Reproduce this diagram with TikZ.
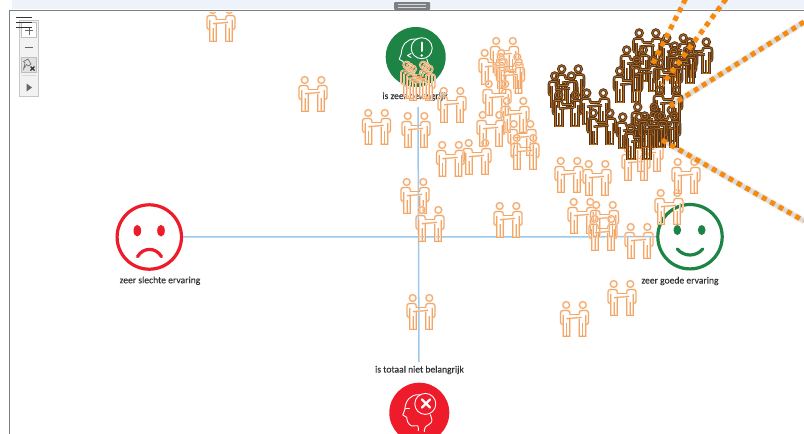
\documentclass[tikz,border=0pt]{standalone}
\usepackage{fontspec}
\setmainfont{Carlito}
\newfontfamily\capfont[FakeBold=0.2]{Carlito}
\definecolor{axisblue}{HTML}{9CC8EA}
\definecolor{badred}{HTML}{EE1C2A}
\definecolor{goodgreen}{HTML}{1E8445}
\definecolor{dotorange}{HTML}{F58A0C}
\definecolor{bandblue}{HTML}{EEF2FB}
\definecolor{framegrey}{HTML}{7C7F84}
\definecolor{lighthalo}{HTML}{FADBBF}
\definecolor{lightcore}{HTML}{F2A768}
\definecolor{darkhalo}{HTML}{55361C}
\definecolor{darkcore}{HTML}{B96E1E}
\newcommand{\personpath}[1]{%
  \draw[#1] (-8.3,-14) circle (3.4);
  \draw[#1,rounded corners=2.4] (-11.3,5.5) -- (-14,5.5) -- (-14,-8.5) -- (-4.7,-8.5) -- (-4.7,-4.5);
  \draw[#1] (-4.7,-0.5) -- (-4.7,17) -- (-11.3,17) -- (-11.3,-4);
  \draw[#1] (-8,4) -- (-8,17);
}
\newcommand{\couplepath}[1]{%
  \personpath{#1}
  \begin{scope}[xscale=-1]\personpath{#1}\end{scope}
  \draw[#1] (-8,-0.3) -- (7,-1.6);
  \draw[#1] (-4.7,-4.5) -- (4.7,-4.5);
}
\tikzset{
  x=1pt,y=-1pt,
  lightline/.style={line width=1.9pt,color=lighthalo},
  lightinner/.style={line width=0.85pt,color=lightcore},
  darkline/.style={line width=2.6pt,color=darkhalo},
  darkinner/.style={line width=0.7pt,color=darkcore},
  pics/lightpair/.style={code={\couplepath{lightline}\couplepath{lightinner}}},
  pics/darkpair/.style={code={\couplepath{darkline}\couplepath{darkinner}}},
  facering/.style={circle,draw=#1,line width=3.2pt,minimum size=64.4pt,inner sep=0pt,fill=white},
  discnode/.style={circle,fill=#1,minimum size=60pt,inner sep=0pt},
  caption/.style={font=\capfont\fontsize{9.6}{11}\selectfont,text=black!80,inner sep=1pt},
  axisline/.style={axisblue,line width=1.5pt},
  dotline/.style={dotorange,line width=5pt,dash pattern=on 5pt off 4.6pt},
  shadowline/.style={black,line width=#1,opacity=.05},
  iconline/.style={white,line width=0.9pt,line join=round,line cap=round},
  toolbtn/.style={draw=black!25,line width=.7pt},
  pics/headicon/.style={code={
    \draw[iconline] plot[smooth,tension=.55] coordinates {(-1,18) (-1.7,13) (-7.6,13.3) (-11.5,9.5) (-12.6,4.6)};
    \draw[iconline] (-12.6,4.6) -- (-16.5,2.3) -- (-14.5,-3) .. controls (-14,-12) and (-9,-18) .. (-1,-18) -- (2,-18);
    \draw[iconline] plot[smooth,tension=.6] coordinates {(11,2) (12.4,9) (6,14.5) (5,19)};
    \draw[iconline] (6,-8.8) circle (10.5);
  }}
}
\begin{document}
\begin{tikzpicture}
\useasboundingbox (0,0) rectangle (804,434);
\clip (0,0) rectangle (804,434);
\fill[white] (0,0) rectangle (804,434);
% window chrome
\fill[bandblue] (12,0) rectangle (804,9);
\draw[framegrey,line width=1.3pt] (9.5,434) -- (9.5,10.3) -- (804,10.3);
\fill[framegrey,rounded corners=1pt] (394,2) rectangle (430,10);
\draw[white!85!black,line width=.7pt] (398,4.5) -- (426,4.5) (398,7.2) -- (426,7.2);
% axes and faces
\node[facering=badred] (bad) at (149.3,237) {};
\node[facering=goodgreen] (good) at (690,236.7) {};
\coordinate (vtop) at (418,107);
\coordinate (vbot) at (419,362);
\draw[axisline] (bad) -- (good);
\draw[axisline] (vtop) -- (vbot);
\foreach \ex in {137.3,161}{\fill[badred] (\ex,230.7) ellipse (3.8 and 5.8);}
\draw[badred,line width=3.2pt,line cap=round] (137.5,256.7) .. controls (143,247) and (156,247) .. (161.5,256.7);
\foreach \ex in {677.3,701.7}{\fill[goodgreen] (\ex,230) ellipse (3.8 and 5);}
\draw[goodgreen,line width=3.2pt,line cap=round] (677.3,249) .. controls (684,257) and (696,257) .. (702.7,249);
% discs
\node[discnode=goodgreen] (important) at (415.7,57) {};
\node[discnode=badred] (unimportant) at (419.3,412.7) {};
\pic at (415.7,57) {headicon};
\pic at (419.3,412.7) {headicon};
\draw[white,line width=2pt,line cap=round] (421.7,42.5) -- (421.7,51);
\fill[white] (421.7,55.5) circle (1.4);
\draw[iconline] (411,53.5) -- (407.5,55.5) -- (411,57.5);
\draw[white,line width=2.2pt,line cap=round] (422,399.5) -- (430,407.5) (430,399.5) -- (422,407.5);
\draw[iconline] (405.5,408) -- (409.5,408);
% captions
\node[caption] (lblbad) at (160,280.7) {zeer slechte ervaring};
\node[caption] (lblgood) at (680,281) {zeer goede ervaring};
\node[caption] (lbltop) at (415,96.5) {is zeer belangrijk};
\node[caption] (lblbottom) at (419.5,370) {is totaal niet belangrijk};
% line shadows
\coordinate (a1) at (685.5,-1);
\coordinate (a2) at (651,67);
\coordinate (b1) at (726,-1);
\coordinate (b2) at (662,85);
\coordinate (c1) at (804,22);
\coordinate (c2) at (670,106);
\coordinate (d1) at (662,140);
\coordinate (d2) at (804,221);
\begin{scope}[yshift=-5pt,xshift=-1pt]
\foreach \w in {7pt,5pt,3pt}{
  \draw[shadowline=\w] (c1) -- (c2);
  \draw[shadowline=\w] (d1) -- (d2);
}
\draw[shadowline=4pt] (a1) -- (a2);
\draw[shadowline=4pt] (b1) -- (b2);
\end{scope}
% light couples
\begin{scope}
\clip (11,12.5) rectangle (804,434);
\pic at (221,24) {lightpair};
\end{scope}
\foreach \cx/\cy in {313/94,376.5/127,416/130,452/105,415/79,421/83,418/81,
  504.5/55,493/67,509/71,510.5/76,497/98,515/115,491/129,522/138,525/152,450.5/159,477/157,
  415/196,430/224,508/220,569/175,597/178,582/216,604.5/219,603/233,639/241,669/207,686/176,
  622/298,574.5/319,636/163,649/154,421/312}{
  \pic at (\cx,\cy) {lightpair};
}
% dark couples
\foreach \cx/\cy in {570/83,563/90,567/109,595/107,601.5/127,
  647.5/47,635/64,628/85,675/52,698/56,683/60,645/74,682/66,668/77,
  668/104,663/124,646/121,631/131,639/142,666/130,653/130}{
  \pic at (\cx,\cy) {darkpair};
}
% dotted call-out lines
\draw[dotline] (a1) -- (a2);
\draw[dotline] (b1) -- (b2);
\draw[dotline] (c1) -- (c2);
\draw[dotline] (d1) -- (d2);
% toolbar
\draw[black!22,fill=black!5,line width=.7pt] (19.5,20.5) rectangle (38,96.5);
\draw[toolbtn,fill=white] (21.5,22.5) rectangle (36,37.5);
\draw[black!60,line width=1pt] (25,30.5) -- (33,30.5) (29,26.5) -- (29,34.5);
\draw[black!60,line width=1pt] (25,47.5) -- (33,47.5);
\draw[toolbtn,fill=black!12] (21.5,57.5) rectangle (36,72.5);
\draw[black!60,line width=.6pt] (28,59) -- (31,64) -- (28.5,66) -- (26.5,64.5) -- (23.5,69) -- (25,63) -- (23.5,61.5) -- cycle;
\draw[black!80,line width=1.2pt] (30.5,66.5) -- (34.5,70.5) (34.5,66.5) -- (30.5,70.5);
\draw[black!15,line width=.7pt] (21.5,75.5) -- (36,75.5);
\fill[black!60] (26.5,83.5) -- (32,87.5) -- (26.5,91.5) -- cycle;
\draw[black!80,line width=.9pt] (16,17.5) -- (32,17.5) (16,22.5) -- (32,22.5) (16,27.5) -- (32,27.5);
\end{tikzpicture}
\end{document}
